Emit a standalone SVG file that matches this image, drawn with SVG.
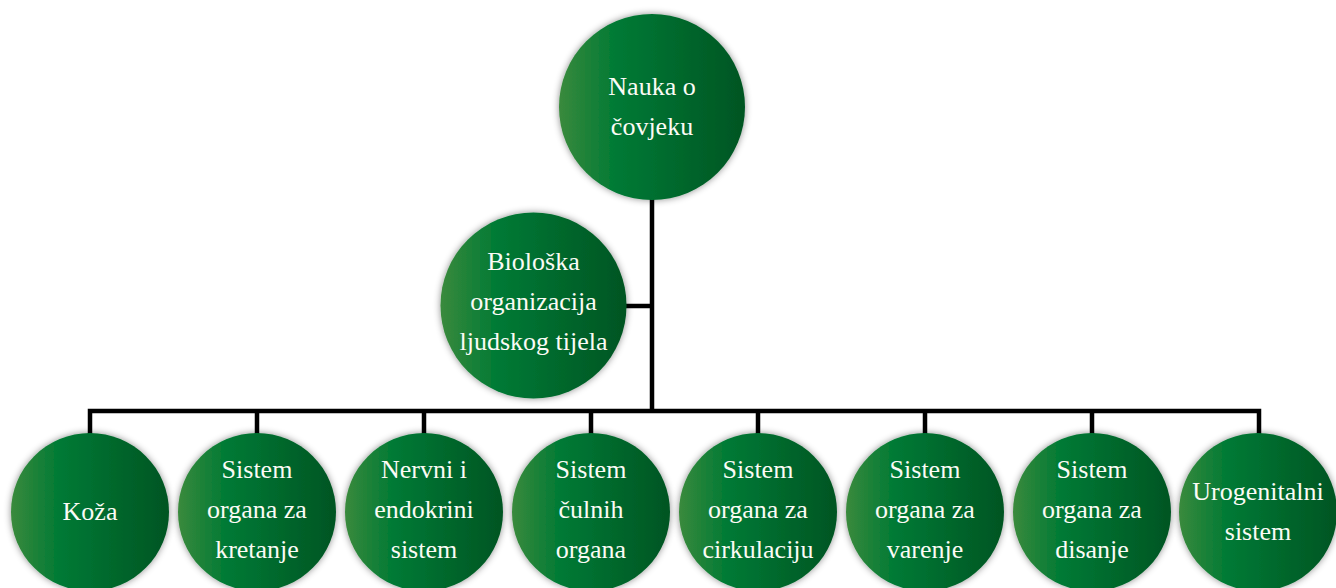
<svg xmlns="http://www.w3.org/2000/svg" width="1336" height="588" viewBox="0 0 1336 588">
<defs>
<linearGradient id="g" x1="0" y1="0" x2="1" y2="0">
<stop offset="0" stop-color="#3a8a3c"/>
<stop offset="0.3" stop-color="#017a35"/>
<stop offset="1" stop-color="#005523"/>
</linearGradient>
<filter id="sh" x="-20%" y="-20%" width="140%" height="140%">
<feDropShadow dx="0" dy="0" stdDeviation="3.5" flood-color="#000" flood-opacity="0.45"/>
</filter>
<style>
.n{fill:url(#g);filter:url(#sh)}
.t{font-family:"Liberation Serif","Times New Roman",serif;font-size:26px;fill:#fbfbf5;text-anchor:middle}
.c{stroke:#000;stroke-width:4.5;fill:none}
</style>
</defs>
<g id="connectors" class="c">
<path d="M652 198V411M626 306H652M90 411H1259M90 411V435M257 411V435M424 411V435M591 411V435M758 411V435M925 411V435M1092 411V435M1259 411V435" stroke-linecap="square"/>
</g>
<g id="n0"><circle class="n" cx="652" cy="107" r="93"/><text class="t" x="652" y="95">Nauka o</text><text class="t" x="652" y="135">čovjeku</text></g>
<g id="n1"><circle class="n" cx="533.5" cy="305.5" r="93"/><text class="t" x="533.5" y="270">Biološka</text><text class="t" x="533.5" y="310">organizacija</text><text class="t" x="533.5" y="350">ljudskog tijela</text></g>
<g id="n2"><circle class="n" cx="90" cy="512" r="79"/><text class="t" x="90" y="520">Koža</text></g>
<g id="n3"><circle class="n" cx="257" cy="512" r="79"/><text class="t" x="257" y="478">Sistem</text><text class="t" x="257" y="518">organa za</text><text class="t" x="257" y="558">kretanje</text></g>
<g id="n4"><circle class="n" cx="424" cy="512" r="79"/><text class="t" x="424" y="478">Nervni i</text><text class="t" x="424" y="518">endokrini</text><text class="t" x="424" y="558">sistem</text></g>
<g id="n5"><circle class="n" cx="591" cy="512" r="79"/><text class="t" x="591" y="478">Sistem</text><text class="t" x="591" y="518">čulnih</text><text class="t" x="591" y="558">organa</text></g>
<g id="n6"><circle class="n" cx="758" cy="512" r="79"/><text class="t" x="758" y="478">Sistem</text><text class="t" x="758" y="518">organa za</text><text class="t" x="758" y="558">cirkulaciju</text></g>
<g id="n7"><circle class="n" cx="925" cy="512" r="79"/><text class="t" x="925" y="478">Sistem</text><text class="t" x="925" y="518">organa za</text><text class="t" x="925" y="558">varenje</text></g>
<g id="n8"><circle class="n" cx="1092" cy="512" r="79"/><text class="t" x="1092" y="478">Sistem</text><text class="t" x="1092" y="518">organa za</text><text class="t" x="1092" y="558">disanje</text></g>
<g id="n9"><circle class="n" cx="1258" cy="512" r="79"/><text class="t" x="1258" y="500">Urogenitalni</text><text class="t" x="1258" y="540">sistem</text></g>
</svg>
